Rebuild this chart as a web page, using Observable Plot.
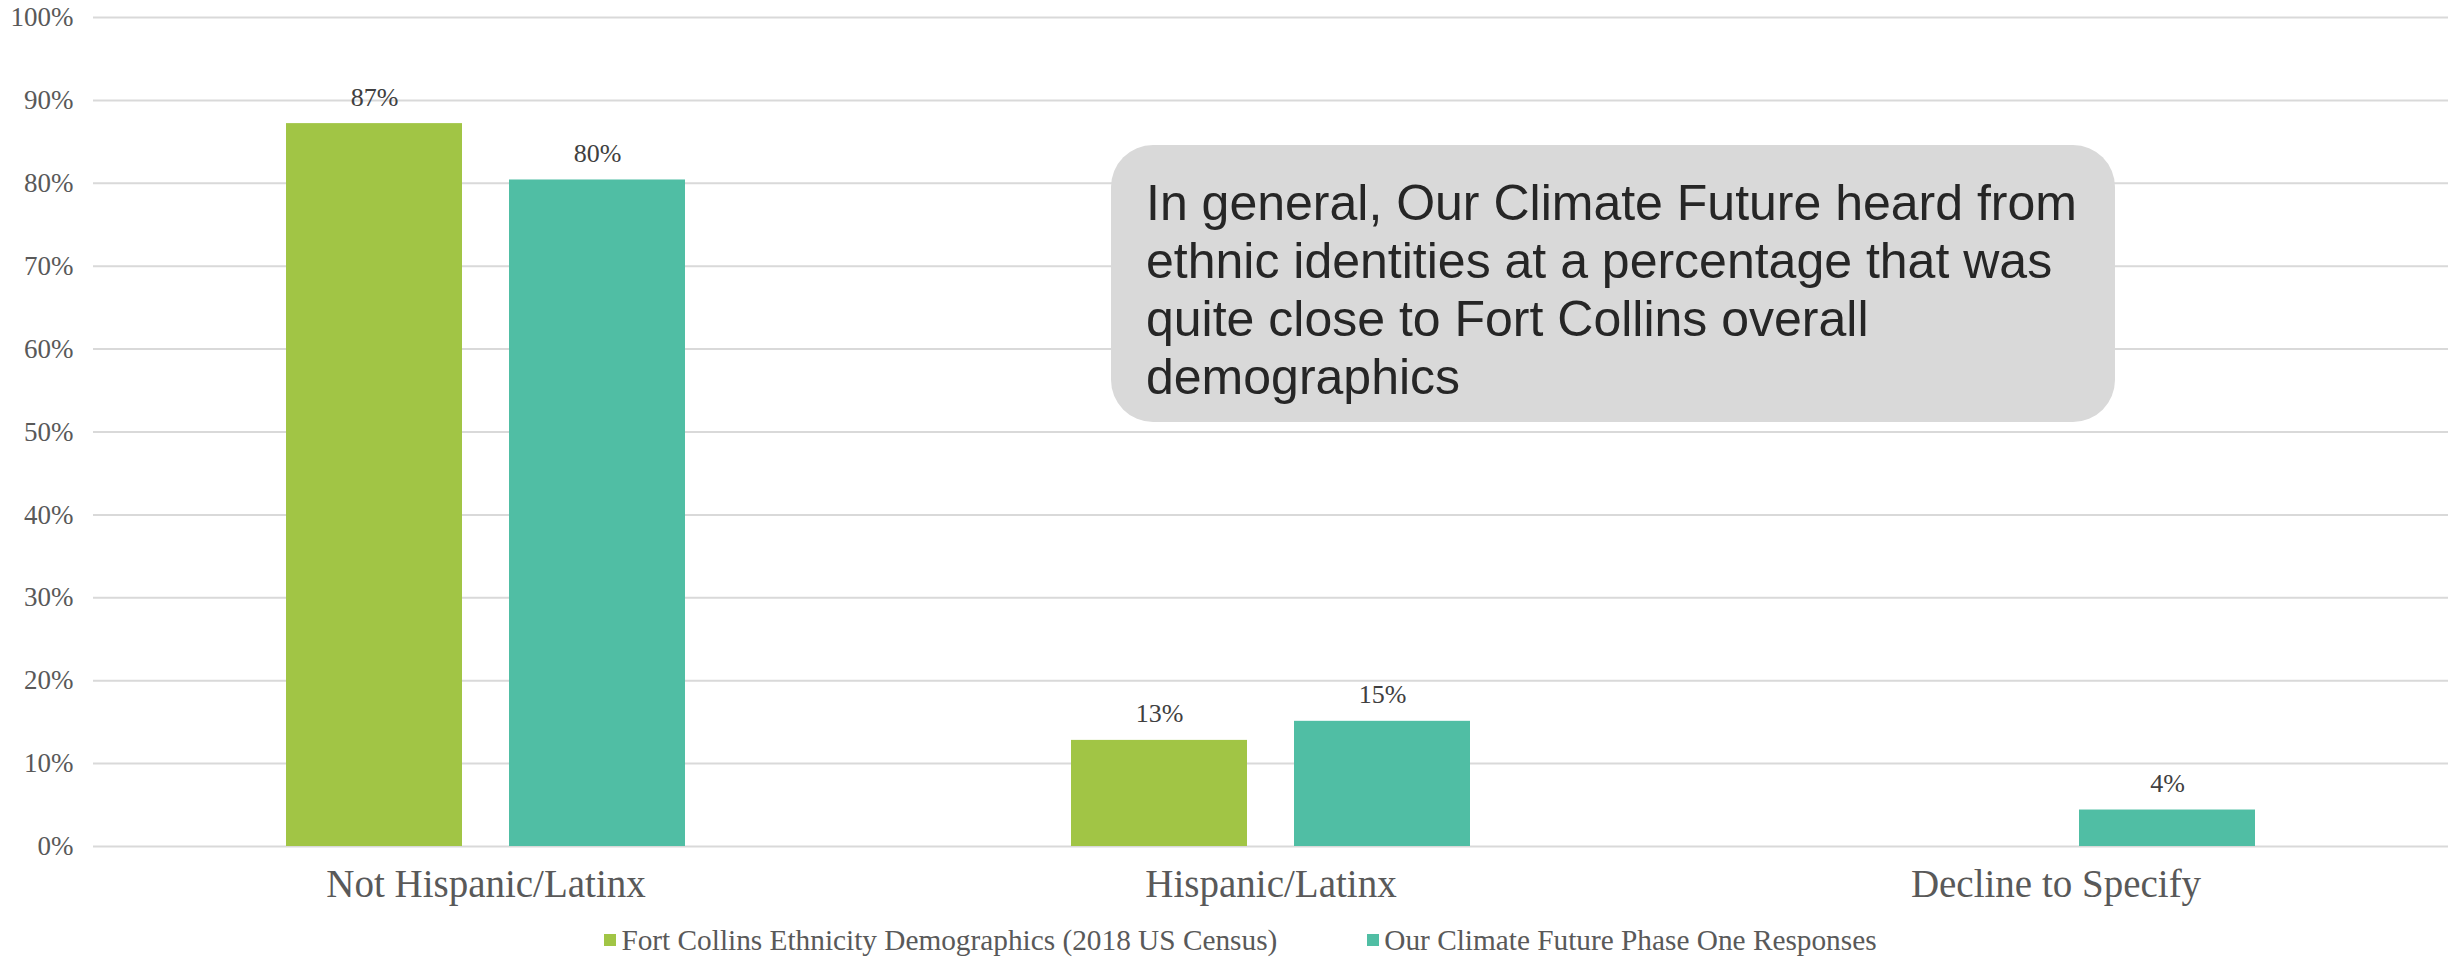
<!DOCTYPE html>
<html>
<head>
<meta charset="utf-8">
<script src="https://cdn.jsdelivr.net/npm/d3@7"></script>
<script src="https://cdn.jsdelivr.net/npm/@observablehq/plot@0.6"></script>
<style>
  html, body { margin: 0; padding: 0; background: #fff; }
  #wrap { position: relative; width: 2451px; height: 957px; overflow: hidden; }
  #note {
    position: absolute; left: 1111px; top: 145px; width: 1004px; height: 277px;
    box-sizing: border-box; padding: 29px 0 0 35px;
    background: #d9d9d9; border-radius: 42px;
    font-family: "Liberation Sans", Arial, sans-serif; font-size: 50px; line-height: 58px; color: #262626;
  }
  #legend {
    display: flex; justify-content: center; align-items: center; gap: 90px;
    height: 42px; margin-top: 4px; font-family: "Liberation Serif", serif; font-size: 29.3px; color: #595959;
    padding-left: 30px;
  }
  #legend .item { display: flex; align-items: center; gap: 5px; }
  #legend .sw { width: 12px; height: 12px; display: inline-block; }
</style>
</head>
<body>
<div id="wrap">
  <div id="chart"></div>
  <div id="legend"></div>
  <div id="note">In general, Our Climate Future heard from<br>ethnic identities at a percentage that was<br>quite close to Fort Collins overall<br>demographics</div>
</div>
<script>
const categories = ["Not Hispanic/Latinx", "Hispanic/Latinx", "Decline to Specify"];
const seriesNames = ["Fort Collins Ethnicity Demographics (2018 US Census)", "Our Climate Future Phase One Responses"];
const censusValues = [87.2, 12.8, null];
const responseValues = [80.4, 15.1, 4.4];
const seriesColors = ["#A1C545", "#50BEA4"];
const yTicks = [0, 10, 20, 30, 40, 50, 60, 70, 80, 90, 100];

const data = [];
categories.forEach((c, i) => {
  [censusValues, responseValues].forEach((vals, s) => {
    if (vals[i] != null) data.push({category: c, series: seriesNames[s], value: vals[i]});
  });
});

const chart = Plot.plot({
  width: 2451,
  height: 915,
  marginLeft: 93,
  marginRight: 3,
  marginTop: 17,
  marginBottom: 69,
  style: {fontFamily: "Liberation Serif, serif", color: "#595959", background: "white"},
  fx: {domain: categories, padding: 0, label: null, axis: null},
  x: {domain: seriesNames, paddingInner: 0.211, paddingOuter: 0.865, axis: null},
  y: {domain: [0, 100], label: null},
  color: {domain: seriesNames, range: seriesColors},
  marks: [
    Plot.gridY(yTicks, {stroke: "#d9d9d9", strokeOpacity: 1, strokeWidth: 2}),
    Plot.axisY(yTicks, {tickSize: 0, tickPadding: 20, tickFormat: d => d + "%", fontSize: 27, label: null}),
    Plot.axisFx({anchor: "bottom", tickSize: 0, tickPadding: 23, fontSize: 39, label: null}),
    Plot.barY(data, {fx: "category", x: "series", y: "value", fill: "series"}),
    Plot.text(data, {fx: "category", x: "series", y: "value", text: d => Math.round(d.value) + "%",
      lineAnchor: "bottom", dy: -18, fontSize: 26, fill: "#404040"})
  ]
});
document.getElementById("chart").appendChild(chart);

const legend = document.getElementById("legend");
seriesNames.forEach((name, i) => {
  const item = document.createElement("div");
  item.className = "item";
  const sw = document.createElement("span");
  sw.className = "sw";
  sw.style.background = seriesColors[i];
  const label = document.createElement("span");
  label.textContent = name;
  item.appendChild(sw);
  item.appendChild(label);
  legend.appendChild(item);
});
</script>
</body>
</html>
